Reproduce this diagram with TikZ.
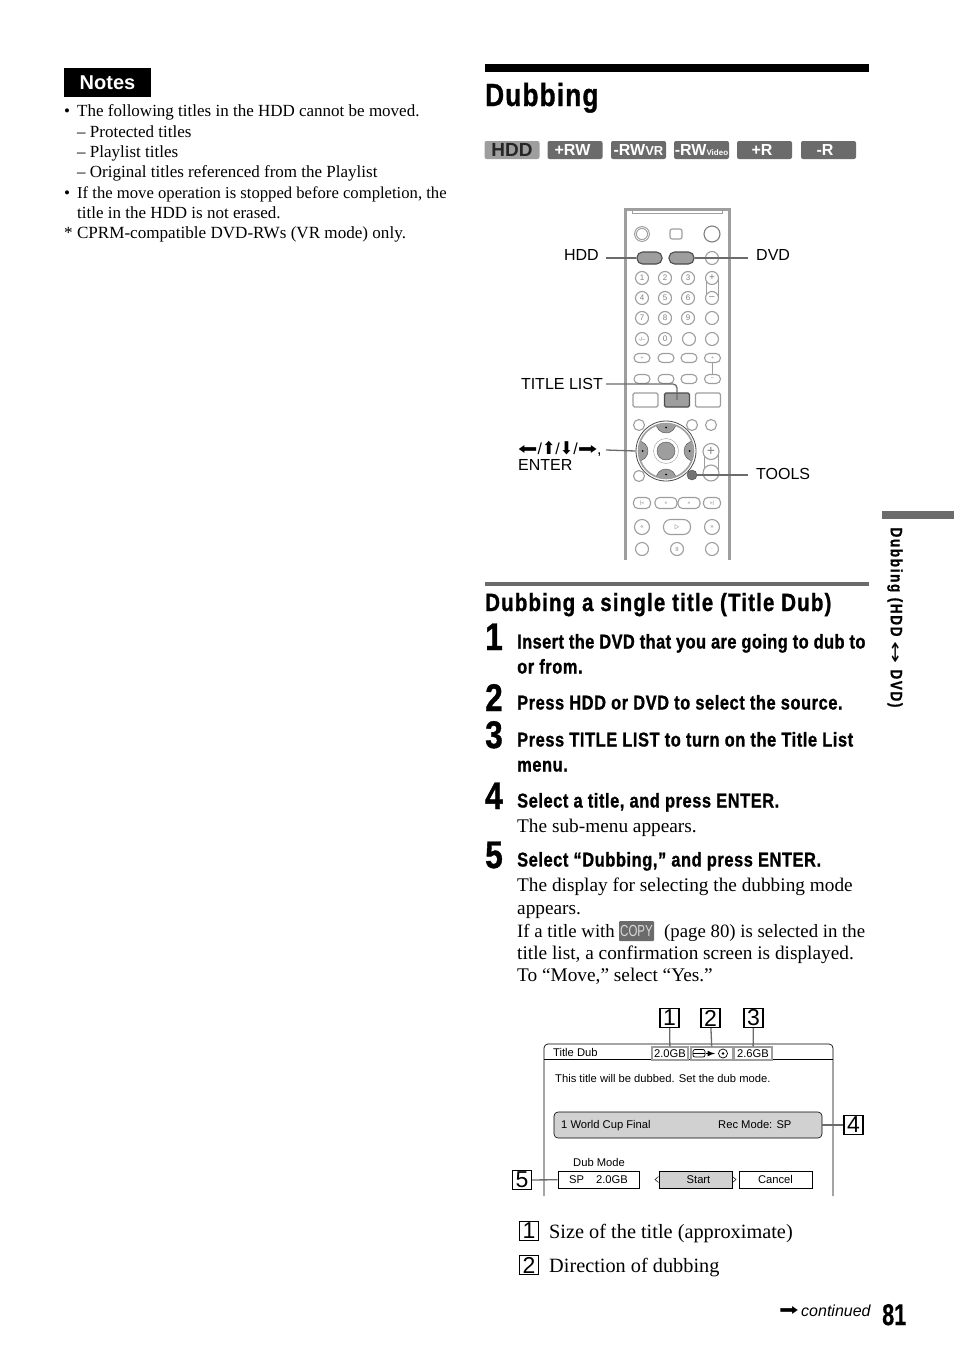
\documentclass[tikz,border=0pt]{standalone}
\usepackage{fontspec}
\usepackage{graphicx}
\setmainfont{Liberation Serif}
\setsansfont{Liberation Sans}
\newfontfamily\condfont[FakeStretch=0.72,FakeBold=0.5]{Liberation Sans}
\newfontfamily\headfont[FakeStretch=0.82,FakeBold=1]{Liberation Sans}
\newfontfamily\copyfont[FakeStretch=0.72]{Liberation Sans}
\newfontfamily\symbfont{DejaVu Sans}
\usetikzlibrary{positioning}
\definecolor{badgegray}{gray}{0.42}
\definecolor{keygray}{gray}{0.62}
\definecolor{wiregray}{gray}{0.42}
\definecolor{linegray}{gray}{0.62}
\newcommand{\harrow}[1]{\scalebox{1.45}[1]{\symbfont #1}}
\newcommand{\varrow}[1]{\scalebox{1}[1.1]{\symbfont #1}}
\tikzset{
  notetext/.style={anchor=base west, inner sep=0pt, font=\rmfamily\fontsize{17}{20}\selectfont},
  bodytext/.style={anchor=base west, inner sep=0pt, font=\rmfamily\fontsize{19.3}{22}\selectfont},
  legendtext/.style={anchor=base west, inner sep=0pt, font=\rmfamily\fontsize{20.3}{24}\selectfont},
  steptext/.style={anchor=base west, inner sep=0pt, font=\headfont\bfseries\fontsize{20}{25}\selectfont\addfontfeature{LetterSpace=2.9}},
  stepnum/.style={anchor=base west, inner sep=0pt, font=\headfont\bfseries\fontsize{38.5}{40}\selectfont},
  remotelabel/.style={inner sep=0pt, font=\sffamily\fontsize{16}{18}\selectfont},
  osdtext/.style={inner sep=0pt, font=\sffamily\fontsize{11.2}{13}\selectfont},
  badge/.style={draw=none, fill=badgegray, rounded corners=2pt, minimum width=55pt, minimum height=18pt,
    inner sep=0pt, text=white, font=\sffamily\bfseries\fontsize{16}{16}\selectfont},
  numbox/.style={draw, line width=1.2pt, minimum width=19pt, minimum height=19pt, inner sep=0pt, font=\sffamily\fontsize{23}{23}\selectfont},
  rkey/.style={circle, draw=linegray, line width=1.1pt, fill=white, minimum size=13pt, inner sep=0pt, text=gray, font=\sffamily\fontsize{8}{8}\selectfont},
  pkey/.style={rectangle, rounded corners=4.5pt, draw=linegray, line width=1.1pt, fill=white, minimum width=16pt, minimum height=9pt, inner sep=0pt, text=gray, font=\sffamily\fontsize{5}{5}\selectfont},
  skey/.style={rectangle, rounded corners=1.5pt, draw=linegray, line width=1.1pt, fill=white, minimum width=25pt, minimum height=14pt, inner sep=0pt},
  leader/.style={wiregray, line width=1.3pt},
  osdbox/.style={draw, line width=.6pt, inner sep=0pt, minimum height=17pt},
  sizebox/.style={draw=linegray, line width=1.2pt, inner sep=0pt, minimum height=13pt}
}
\begin{document}
\begin{tikzpicture}[x=1pt,y=-1pt]
    \useasboundingbox (0,0) rectangle (954,1352);

    % left column
    \node (notes) at (107.5,82.5) [fill=black, text=white, minimum width=87pt, minimum height=29pt, inner sep=0pt,
      font=\sffamily\bfseries\fontsize{20}{20}\selectfont] {Notes};
    \node (n1) at (64,116) [notetext] {•};
    \node (n1a) at (77,116) [notetext] {The following titles in the HDD cannot be moved.};
    \node (n2) at (77,137.8) [notetext] {– Protected titles};
    \node (n3) at (77,157.8) [notetext] {– Playlist titles};
    \node (n4) at (77,177.8) [notetext] {– Original titles referenced from the Playlist};
    \node (n5) at (64,198.8) [notetext] {•};
    \node (n5a) at (77,198.8) [notetext, font=\rmfamily\fontsize{16.65}{20}\selectfont] {If the move operation is stopped before completion, the};
    \node (n6) at (77,218.8) [notetext] {title in the HDD is not erased.};
    \node (n7) at (64,238.8) [notetext, font=\rmfamily\fontsize{17.1}{20}\selectfont] {* CPRM-compatible DVD-RWs (VR mode) only.};

    % title
    \fill [black] (485,64) rectangle (869,72);
    \node (title) at (485,106) [anchor=base west, inner sep=0pt, font=\headfont\bfseries\fontsize{32}{35}\selectfont\addfontfeature{LetterSpace=3.6}] {Dubbing};

    \node (bhdd) at (512,150) [badge, fill=keygray, text=black!85, font=\sffamily\bfseries\fontsize{19}{19}\selectfont] {HDD};
    \node (brw) at (575,150) [badge] {\hspace{-5pt}+RW};
    \node (brwvr) at (638.5,150) [badge] {-RW{\fontsize{13}{13}\selectfont VR}};
    \node (brwv) at (701.5,150) [badge] {-RW{\fontsize{8}{8}\selectfont Video}};
    \node (br) at (764.5,150) [badge] {\hspace{-5pt}+R};
    \node (bmr) at (828.5,150) [badge] {\hspace{-7pt}-R};

    % remote control
    \draw [linegray, line width=3pt] (625,560) -- (625,209) -- (729,209) -- (729,560);
    \draw [linegray, thin] (632,209) -- (632,213.5) -- (722,213.5) -- (722,209);

    \node (keyeject) at (642,234) [rkey, double] {};
    \node (keyopen) at (676,234) [pkey, minimum width=12pt, minimum height=10pt, rounded corners=2pt] {};
    \node (keypower) at (712,234) [rkey, minimum size=16pt, draw=gray] {};
    \node (keyhdd) at (649.5,258) [pkey, draw=black!70, fill=keygray, minimum width=25pt, minimum height=12pt, rounded corners=5.5pt] {};
    \node (keydvd) at (681.5,258) [pkey, draw=black!70, fill=keygray, minimum width=25pt, minimum height=12pt, rounded corners=5.5pt] {};
    \node (keyx) at (712,258) [rkey] {};

    \draw [linegray, line width=.9pt] (706,278) rectangle (718,298);
    \node (k1) at (642,278) [rkey] {1};
    \node (k2) at (665,278) [rkey] {2};
    \node (k3) at (688,278) [rkey] {3};
    \node (kp) at (712,278) [rkey, font=\sffamily\fontsize{10}{10}\selectfont] {+};
    \node (k4) at (642,298) [rkey] {4};
    \node (k5) at (665,298) [rkey] {5};
    \node (k6) at (688,298) [rkey] {6};
    \node (km) at (712,298) [rkey, font=\sffamily\fontsize{10}{10}\selectfont] {--};
    \node (k7) at (642,318) [rkey] {7};
    \node (k8) at (665,318) [rkey] {8};
    \node (k9) at (688,318) [rkey] {9};
    \node (kr) at (712,318) [rkey] {};
    \node (kdash) at (642,339) [rkey, font=\sffamily\fontsize{6}{6}\selectfont] {-/--};
    \node (k0) at (665,339) [rkey] {0};
    \node (kq) at (689,339) [rkey] {};
    \node (kz) at (712,339) [rkey] {};

    \draw [linegray, line width=.9pt] (712.5,358) -- (712.5,379);
    \node (p1) at (642,358) [pkey] {+};
    \node (p2) at (666,358) [pkey] {};
    \node (p3) at (689,358) [pkey] {};
    \node (p4) at (712.5,358) [pkey] {+};
    \node (p5) at (642,379) [pkey] {};
    \node (p6) at (666,379) [pkey] {};
    \node (p7) at (689,379) [pkey] {};
    \node (p8) at (712.5,379) [pkey] {--};

    \node (skey1) at (645.5,400) [skey] {};
    \node (keytitle) at (677,400) [skey, draw=black!70, fill=keygray] {};
    \node (skey3) at (708,400) [skey] {};

    \node (c1) at (639,425) [rkey, minimum size=11pt] {};
    \node (c2) at (692,425) [rkey, minimum size=11pt] {};
    \node (c3) at (711,425) [rkey, minimum size=11pt] {};

    % dial
    \draw [linegray, line width=.9pt] (704,451.5) rectangle (718,473);
    \node (kplus) at (711,451.5) [rkey, minimum size=16pt, font=\sffamily\fontsize{14}{14}\selectfont] {+};
    \node (kminus) at (711,473) [rkey, minimum size=16pt] {};
    \node (dial) at (666,451) [circle, draw=black!70, line width=.8pt, fill=white, minimum size=60pt, inner sep=0pt] {};
    \draw [linegray, line width=1.6pt] (dial.center) circle (27.5);
    \begin{scope}
      \clip (dial.center) circle (27);
      \fill [keygray, draw=black!70] (666,423) circle (10);
      \fill [keygray, draw=black!70] (666,479) circle (10);
      \fill [keygray, draw=black!70] (638,451) circle (10);
      \fill [keygray, draw=black!70] (694,451) circle (10);
    \end{scope}
    \draw [linegray] (dial.center) circle (12.5);
    \node (keyenter) at (dial.center) [circle, draw=black!70, fill=keygray, minimum size=18pt, inner sep=0pt] {};
    \node (dn) at (666,427.5) [circle, fill=black, minimum size=2pt, inner sep=0pt] {};
    \node (ds) at (666,474.5) [circle, fill=black, minimum size=2pt, inner sep=0pt] {};
    \node (dw) at (642.5,451) [circle, fill=black, minimum size=2pt, inner sep=0pt] {};
    \node (de) at (689.5,451) [circle, fill=black, minimum size=2pt, inner sep=0pt] {};
    \node (c4) at (639,476) [rkey, minimum size=11pt] {};
    \node (keytools) at (692,475) [circle, draw=black!70, fill=black!55, minimum size=10pt, inner sep=0pt] {};

    \node (t1) at (642,503) [pkey, minimum width=17pt, minimum height=11pt] {|<<};
    \node (t2) at (666,503) [pkey, minimum width=22pt, minimum height=11pt] {<<};
    \node (t3) at (689,503) [pkey, minimum width=22pt, minimum height=11pt] {>>};
    \node (t4) at (712,503) [pkey, minimum width=17pt, minimum height=11pt] {>>|};
    \node (k11) at (642,527) [rkey, minimum size=15pt, font=\sffamily\fontsize{6}{6}\selectfont] {<<};
    \node (kplay) at (677,527) [pkey, minimum width=27pt, minimum height=15pt, rounded corners=7pt, font=\sffamily\fontsize{9}{9}\selectfont] {$\triangleright$};
    \node (k12) at (712,527) [rkey, minimum size=15pt, font=\sffamily\fontsize{6}{6}\selectfont] {>>};
    \node (k13) at (642,549) [rkey] {};
    \node (k14) at (677,549) [rkey, font=\sffamily\fontsize{6}{6}\selectfont] {II};
    \node (k15) at (712,549) [rkey] {$\cdot$};

    % remote labels
    \node (lhdd) at (599,255) [remotelabel, anchor=east] {HDD};
    \node (ldvd) at (756,255) [remotelabel, anchor=west] {DVD};
    \node (ltitle) at (603,384) [remotelabel, anchor=east] {TITLE LIST};
    \node (larrows) at (518,449) [remotelabel, anchor=west] {\harrow{⬅}/\varrow{⬆}/\varrow{⬇}/\harrow{➡},};
    \node (lenter) at (518,465) [remotelabel, anchor=west] {ENTER};
    \node (ltools) at (756,474) [remotelabel, anchor=west] {TOOLS};

    \coordinate (hddstart) at (606,258);
    \coordinate (dvdend) at (748,258);
    \coordinate (titlestart) at (606,384);
    \coordinate (arrowstart) at (606,450);
    \coordinate (toolsend) at (748,475);
    \draw [leader] (hddstart) -- (keyhdd.west);
    \draw [leader] (keydvd.east) -- (dvdend);
    \draw [leader, rounded corners=4pt] (titlestart) -| (keytitle.center);
    \draw [leader] (arrowstart) -- (dial.west);
    \draw [leader] (keytools) -- (toolsend);

    % section
    \fill [wiregray] (485,582) rectangle (869,586);
    \node (sect) at (485,611) [anchor=base west, inner sep=0pt, font=\headfont\bfseries\fontsize{25}{28}\selectfont\addfontfeature{LetterSpace=4.6}] {Dubbing a single title (Title Dub)};

    \node (s1) at (485,650) [stepnum] {1};
    \node (s1a) at (517,648.5) [steptext, font=\headfont\bfseries\fontsize{20}{25}\selectfont\addfontfeature{LetterSpace=2.1}] {Insert the DVD that you are going to dub to};
    \node (s1b) at (517,673.5) [steptext] {or from.};
    \node (s2) at (485,711) [stepnum] {2};
    \node (s2a) at (517,709.5) [steptext] {Press HDD or DVD to select the source.};
    \node (s3) at (485,748) [stepnum] {3};
    \node (s3a) at (517,746.5) [steptext] {Press TITLE LIST to turn on the Title List};
    \node (s3b) at (517,771.5) [steptext] {menu.};
    \node (s4) at (485,809) [stepnum] {4};
    \node (s4a) at (517,807.5) [steptext] {Select a title, and press ENTER.};
    \node (s4b) at (517,832) [bodytext] {The sub-menu appears.};
    \node (s5) at (485,868) [stepnum] {5};
    \node (s5a) at (517,866.5) [steptext] {Select “Dubbing,” and press ENTER.};
    \node (s5b) at (517,891) [bodytext] {The display for selecting the dubbing mode};
    \node (s5c) at (517,914) [bodytext] {appears.};
    \node (s5d) at (517,937) [bodytext, font=\rmfamily\fontsize{18.8}{22}\selectfont] {If a title with};
    \node (copyicon) at (636.5,931) [fill=badgegray, rounded corners=1pt, text=black!15, minimum width=35pt, minimum height=20pt, inner sep=0pt,
      font=\copyfont\fontsize{16}{16}\selectfont] {COPY};
    \node (s5e) at (664,937) [bodytext, font=\rmfamily\fontsize{18.8}{22}\selectfont] {(page 80) is selected in the};
    \node (s5f) at (517,959) [bodytext] {title list, a confirmation screen is displayed.};
    \node (s5g) at (517,981) [bodytext] {To “Move,” select “Yes.”};

    % screen
    \draw [line width=.7pt, rounded corners=4pt] (544,1196) -- (544,1044) -- (833,1044) -- (833,1196);
    \draw [line width=.7pt] (544,1059) -- (833,1059);
    \node (odub) at (553,1056) [osdtext, anchor=base west] {Title Dub};
    \node (osize) at (670,1053.5) [sizebox, minimum width=36pt, osdtext] {2.0GB};
    \node (odir) at (712,1053.5) [sizebox, minimum width=42pt] {};
    \node (orest) at (753,1053.5) [sizebox, minimum width=38pt, osdtext] {2.6GB};
    \draw [black, line width=.7pt, rounded corners=2pt] (693,1049.5) rectangle (705,1057);
    \draw [black, line width=.7pt] (693,1053) -- (705,1053);
    \draw [black, line width=1.5pt, -latex] (706,1053.5) -- (715,1053.5);
    \draw [black, line width=.7pt] (723,1053.5) circle (4.5);
    \fill [black] (723,1053.5) circle (1.3);
    \node (omsg) at (555,1082) [osdtext, anchor=base west] {This title will be dubbed. Set the dub mode.};
    \node (opanel) at (688,1125) [draw, line width=.6pt, fill=black!18, rounded corners=4pt, minimum width=268pt, minimum height=26pt, inner sep=0pt] {};
    \node (oname) at (561,1128) [osdtext, anchor=base west] {1 World Cup Final};
    \node (orec) at (718,1128) [osdtext, anchor=base west] {Rec Mode: SP};
    \node (omode) at (573,1166) [osdtext, anchor=base west] {Dub Mode};
    \node (osp) at (598.5,1179.5) [osdbox, minimum width=81pt, osdtext] {SP\hspace{12pt}2.0GB};
    \node (ostart) at (695.5,1179.5) [osdbox, minimum width=73pt, fill=black!18, osdtext] {\hspace{6pt}Start};
    \node (ocancel) at (775.5,1179.5) [osdbox, minimum width=73pt, osdtext] {Cancel};
    \draw [line width=.5pt] (658.5,1176.5) -- (655,1179.5) -- (658.5,1182.5);
    \draw [line width=.5pt] (732.5,1176.5) -- (736,1179.5) -- (732.5,1182.5);

    % call-outs
    \node (box1) at (669.5,1018) [numbox] {1};
    \node (box2) at (710.5,1018) [numbox] {2};
    \node (box3) at (753.5,1018) [numbox] {3};
    \node (box4) at (853.5,1125) [numbox] {4};
    \node (box5) at (522,1180) [numbox] {5};
    \draw [leader] (box1) -- (osize);
    \draw [leader] (box2) -- (odir);
    \draw [leader] (box3) -- (orest);
    \draw [leader] (box4) -- (opanel);
    \draw [leader] (box5) -- (osp);

    % legend
    \node (leg1) at (529,1231) [numbox] {1};
    \node (leg1a) at (549,1238) [legendtext] {Size of the title (approximate)};
    \node (leg2) at (529,1265) [numbox] {2};
    \node (leg2a) at (549,1272) [legendtext] {Direction of dubbing};

    % page foot and side tab
    \node (conta) at (779,1310.5) [anchor=west, inner sep=0pt, font=\fontsize{16}{16}\selectfont] {\harrow{➡}};
    \node (cont) at (801,1311) [anchor=west, inner sep=0pt, font=\sffamily\itshape\fontsize{16}{16}\selectfont] {continued};
    \node (page) at (882,1325) [anchor=base west, inner sep=0pt, font=\condfont\bfseries\fontsize{30}{30}\selectfont] {81};
    \fill [wiregray] (882,511) rectangle (954,519);
    \node (side) at (895,617.5) [rotate=-90, inner sep=0pt, font=\headfont\bfseries\fontsize{16.5}{16.5}\selectfont\addfontfeature{LetterSpace=10}] {Dubbing (HDD {\symbfont\mdseries\scalebox{1.6}[1]{↔}} DVD)};
\end{tikzpicture}
\end{document}
